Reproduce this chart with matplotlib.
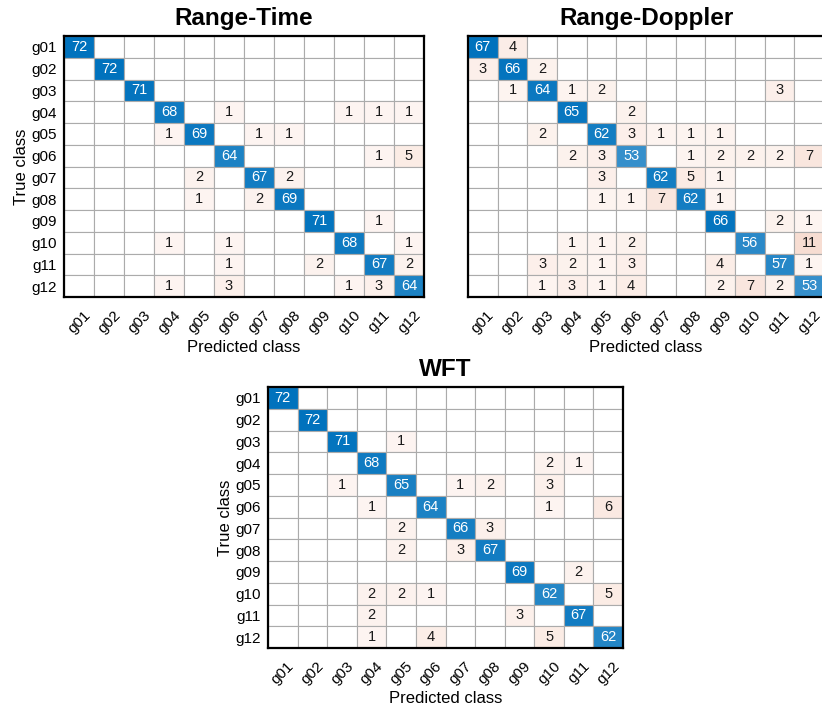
import numpy as np
import matplotlib
matplotlib.use("Agg")
import matplotlib.pyplot as plt

plt.rcParams['font.family'] = ['Liberation Sans', 'DejaVu Sans']

classes = ["g01", "g02", "g03", "g04", "g05", "g06", "g07", "g08", "g09", "g10", "g11", "g12"]

range_time = [
    [72, 0, 0, 0, 0, 0, 0, 0, 0, 0, 0, 0],
    [0, 72, 0, 0, 0, 0, 0, 0, 0, 0, 0, 0],
    [0, 0, 71, 0, 0, 0, 0, 0, 0, 0, 0, 0],
    [0, 0, 0, 68, 0, 1, 0, 0, 0, 1, 1, 1],
    [0, 0, 0, 1, 69, 0, 1, 1, 0, 0, 0, 0],
    [0, 0, 0, 0, 0, 64, 0, 0, 0, 0, 1, 5],
    [0, 0, 0, 0, 2, 0, 67, 2, 0, 0, 0, 0],
    [0, 0, 0, 0, 1, 0, 2, 69, 0, 0, 0, 0],
    [0, 0, 0, 0, 0, 0, 0, 0, 71, 0, 1, 0],
    [0, 0, 0, 1, 0, 1, 0, 0, 0, 68, 0, 1],
    [0, 0, 0, 0, 0, 1, 0, 0, 2, 0, 67, 2],
    [0, 0, 0, 1, 0, 3, 0, 0, 0, 1, 3, 64],
]

range_doppler = [
    [67, 4, 0, 0, 0, 0, 0, 0, 0, 0, 0, 0],
    [3, 66, 2, 0, 0, 0, 0, 0, 0, 0, 0, 0],
    [0, 1, 64, 1, 2, 0, 0, 0, 0, 0, 3, 0],
    [0, 0, 0, 65, 0, 2, 0, 0, 0, 0, 0, 0],
    [0, 0, 2, 0, 62, 3, 1, 1, 1, 0, 0, 0],
    [0, 0, 0, 2, 3, 53, 0, 1, 2, 2, 2, 7],
    [0, 0, 0, 0, 3, 0, 62, 5, 1, 0, 0, 0],
    [0, 0, 0, 0, 1, 1, 7, 62, 1, 0, 0, 0],
    [0, 0, 0, 0, 0, 0, 0, 0, 66, 0, 2, 1],
    [0, 0, 0, 1, 1, 2, 0, 0, 0, 56, 0, 11],
    [0, 0, 3, 2, 1, 3, 0, 0, 4, 0, 57, 1],
    [0, 0, 1, 3, 1, 4, 0, 0, 2, 7, 2, 53],
]

wft = [
    [72, 0, 0, 0, 0, 0, 0, 0, 0, 0, 0, 0],
    [0, 72, 0, 0, 0, 0, 0, 0, 0, 0, 0, 0],
    [0, 0, 71, 0, 1, 0, 0, 0, 0, 0, 0, 0],
    [0, 0, 0, 68, 0, 0, 0, 0, 0, 2, 1, 0],
    [0, 0, 1, 0, 65, 0, 1, 2, 0, 3, 0, 0],
    [0, 0, 0, 1, 0, 64, 0, 0, 0, 1, 0, 6],
    [0, 0, 0, 0, 2, 0, 66, 3, 0, 0, 0, 0],
    [0, 0, 0, 0, 2, 0, 3, 67, 0, 0, 0, 0],
    [0, 0, 0, 0, 0, 0, 0, 0, 69, 0, 2, 0],
    [0, 0, 0, 2, 2, 1, 0, 0, 0, 62, 0, 5],
    [0, 0, 0, 2, 0, 0, 0, 0, 3, 0, 67, 0],
    [0, 0, 0, 1, 0, 4, 0, 0, 0, 5, 0, 62],
]

titles = ["Range-Time", "Range-Doppler", "WFT"]

DIAG = np.array([0.0, 0.447, 0.741])
OFF = np.array([0.85, 0.325, 0.098])

W, H = 822, 708
fig = plt.figure(figsize=(W / 100, H / 100), dpi=100)


def px_axes(left, top, width, height):
    return fig.add_axes([left / W, 1 - (top + height) / H, width / W, height / H])


def draw(ax, mat, title):
    m = np.array(mat, dtype=float)
    n = m.shape[0]
    mx = m.max()
    img = np.ones((n, n, 3))
    for i in range(n):
        for j in range(n):
            v = m[i, j]
            if v <= 0:
                continue
            if i == j:
                a = v / mx
                base = DIAG
            else:
                a = 0.05 + 0.9 * v / mx
                base = OFF
            img[i, j] = 1 - a * (1 - base)
    edges = np.arange(n + 1) - 0.5
    ax.pcolormesh(edges, edges, img, edgecolors='#ababab', linewidth=0.8,
                  antialiased=True)
    for i in range(n):
        for j in range(n):
            v = int(m[i, j])
            if v == 0:
                continue
            col = 'white' if i == j else '#1a1a1a'
            ax.text(j, i, str(v), ha='center', va='center', fontsize=10.5, color=col)
    ax.tick_params(which='both', length=0)
    ax.set_xticks(np.arange(n))
    ax.set_yticks(np.arange(n))
    ax.set_xticklabels(classes, rotation=45, ha='center', va='top', fontsize=11)
    ax.set_yticklabels(classes, fontsize=11)
    ax.tick_params(axis='x', pad=8)
    ax.tick_params(axis='y', pad=5)
    ax.set_xlim(-0.5, n - 0.5)
    ax.set_ylim(n - 0.5, -0.5)
    for s in ax.spines.values():
        s.set_linewidth(1.6)
        s.set_color('black')
    ax.set_xlabel("Predicted class", fontsize=12, labelpad=3)
    ax.set_ylabel("True class", fontsize=12, labelpad=2)
    ax.set_title(title, fontsize=17.5, fontweight='bold', pad=8)


ax1 = px_axes(64, 36, 360, 261)
ax2 = px_axes(468, 36, 356, 261)
ax3 = px_axes(268, 387, 355, 261)

draw(ax1, range_time, titles[0])
draw(ax2, range_doppler, titles[1])
draw(ax3, wft, titles[2])
ax2.set_ylabel("")
ax2.set_yticklabels([])

fig.savefig("out.png", dpi=100)
